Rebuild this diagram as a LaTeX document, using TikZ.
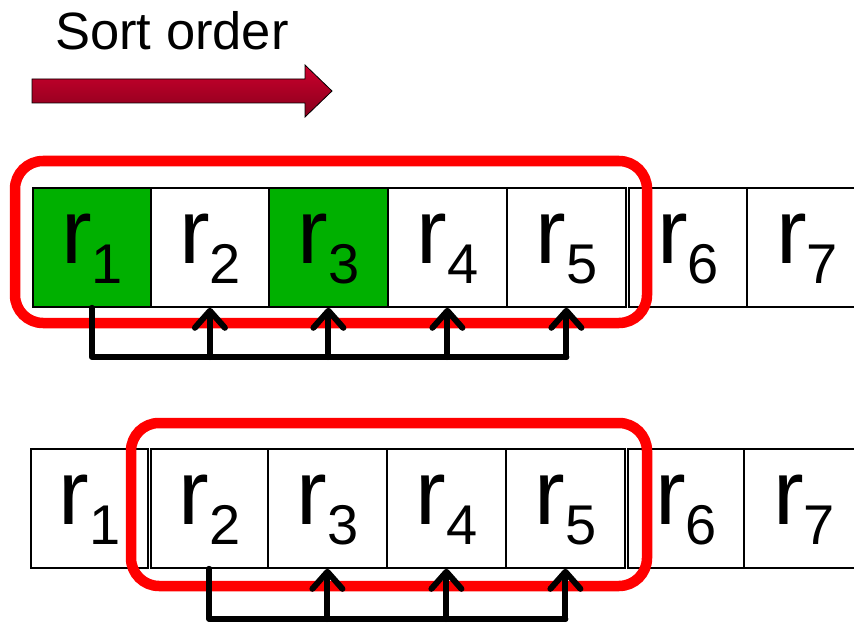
\documentclass[tikz,border=0pt]{standalone}
\usepackage{fontspec}
\setmainfont{Liberation Sans}
\usetikzlibrary{arrows.meta}
\definecolor{cellgreen}{RGB}{0,176,0}
\definecolor{frame}{RGB}{255,0,0}
\definecolor{sorttop}{RGB}{205,0,45}
\definecolor{sortbot}{RGB}{135,0,28}
\newcommand{\rcell}[1]{r\raisebox{-20pt}{\fontsize{56}{56}\selectfont #1}}
\tikzset{
  cell/.style={draw=black, line width=1.8pt, inner sep=0pt, anchor=north west,
    minimum height=119pt, text height=45pt, text depth=12pt,
    font=\fontsize{92}{92}\selectfont},
  window/.style={draw=frame, line width=10.5pt, rounded corners=28pt},
  bus/.style={draw=black, line width=6pt, line cap=round, line join=round},
  uparrow/.style={bus, -{Straight Barb[length=17pt,width=30pt,round]}},
}
\begin{document}
\begin{tikzpicture}[x=1pt,y=-1pt]
\useasboundingbox (0,0) rectangle (854,623);

% title and sort direction
\node[anchor=base west, inner sep=0pt, font=\fontsize{52.5}{52.5}\selectfont] (title) at (55,50) {Sort order};
\path[draw=black, line width=0.8pt, top color=sorttop, bottom color=sortbot]
  (32,79) -- (305,79) -- (305,65) -- (332,91) -- (305,117) -- (305,103) -- (32,103) -- cycle;

% upper row of records
\node[cell, fill=cellgreen, minimum width=118pt] (t1) at (32,187) {\rcell{1}};
\node[cell, minimum width=118pt] (t2) at (150,187) {\rcell{2}};
\node[cell, fill=cellgreen, minimum width=119pt] (t3) at (268,187) {\rcell{3}};
\node[cell, minimum width=119pt] (t4) at (387,187) {\rcell{4}};
\node[cell, minimum width=119pt] (t5) at (506,187) {\rcell{5}};
\node[cell, minimum width=118pt] (t6) at (628,187) {\rcell{6}};
\node[cell, minimum width=120pt] (t7) at (746,187) {\rcell{7}};

% lower row of records
\node[cell, minimum width=117pt] (b1) at (30,448) {\rcell{1}};
\node[cell, minimum width=117pt] (b2) at (150,448) {\rcell{2}};
\node[cell, minimum width=119pt] (b3) at (267,448) {\rcell{3}};
\node[cell, minimum width=119pt] (b4) at (386,448) {\rcell{4}};
\node[cell, minimum width=119pt] (b5) at (505,448) {\rcell{5}};
\node[cell, minimum width=116pt] (b6) at (627,448) {\rcell{6}};
\node[cell, minimum width=120pt] (b7) at (743,448) {\rcell{7}};

% sliding windows
\draw[window] (15,161) rectangle (647,323);
\draw[window] (131,423) rectangle (647,586);

% links from the first record of each window
\coordinate (tbus) at (0,357);
\draw[bus] (t1.south) |- (t5.south |- tbus);
\foreach \i in {2,...,5} \draw[uparrow] (t\i.south |- tbus) -- (t\i.south);

\coordinate (bbus) at (0,619);
\draw[bus] (b2.south) |- (b5.south |- bbus);
\foreach \i in {3,4,5} \draw[uparrow] (b\i.south |- bbus) -- (b\i.south);
\end{tikzpicture}
\end{document}
